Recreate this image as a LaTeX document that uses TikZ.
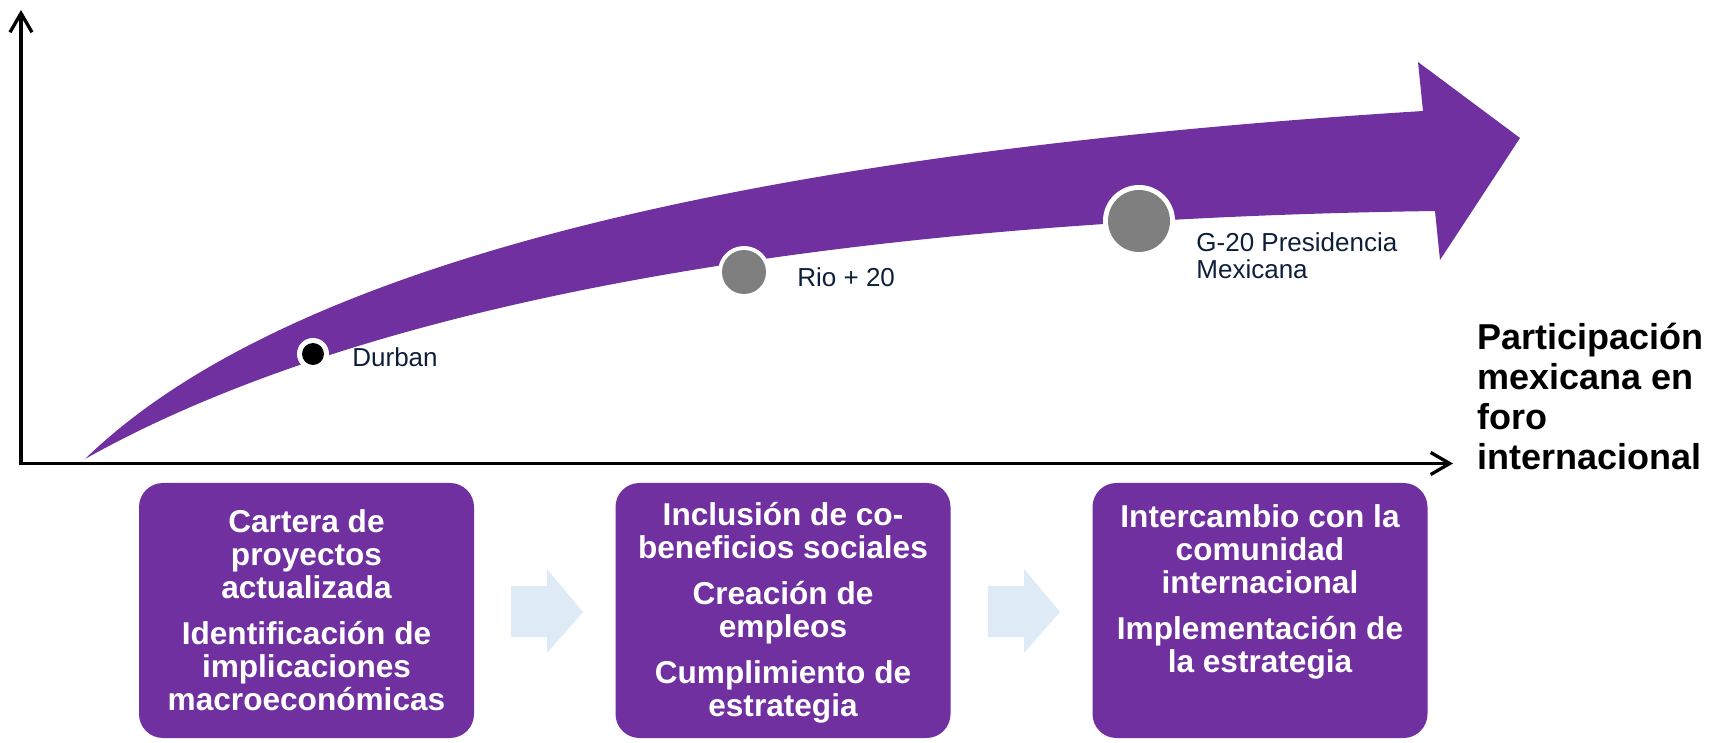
\documentclass[tikz,border=0pt]{standalone}
\usepackage{fontspec}
\setmainfont{Liberation Sans}
\usetikzlibrary{arrows.meta}
\definecolor{purp}{HTML}{7030A0}
\definecolor{navy}{HTML}{0E1F3A}
\definecolor{dotgray}{HTML}{7F7F7F}
\definecolor{paleblue}{HTML}{DEEBF7}
\tikzset{
  axisline/.style={line width=1.65pt, line join=miter, {Straight Barb[length=9.5pt,width=11pt]}-{Straight Barb[length=9.5pt,width=11pt]}},
  stagebox/.style={fill=purp, rounded corners=12pt, minimum width=167.5pt, minimum height=127.5pt, inner sep=0pt},
  stagetext/.style={anchor=north, align=center, text=white, font=\bfseries\fontsize{15.8}{16.5}\selectfont, inner sep=0pt},
  milestone/.style={anchor=base west, text=navy, font=\fontsize{13}{13.5}\selectfont, inner sep=0pt, align=left},
  ring/.style={circle, fill=white, inner sep=0pt},
  chev/.style={fill=paleblue},
}
\begin{document}
\begin{tikzpicture}[x=0.5pt,y=-0.5pt]
\useasboundingbox (0,0) rectangle (1721,743);
% axes
\coordinate (ytop) at (21,10);
\coordinate (origin) at (21,463.5);
\coordinate (xend) at (1453,463.5);
\draw[axisline] (ytop) -- (origin) -- (xend);
% big curved arrow
\fill[purp] (85,459) .. controls (300,250) and (800,150) .. (1423,111)
  -- (1418,62) -- (1520,138) -- (1440,260) -- (1435,211)
  .. controls (800,220) and (350,310) .. (85,459) -- cycle;
% milestones
\node[ring, minimum size=16pt] (durbanring) at (313,354) {};
\node[circle, fill=black, inner sep=0pt, minimum size=11pt] (durbandot) at (durbanring) {};
\node[milestone] (durban) at (352,367) {Durban};
\node[ring, minimum size=26pt] (rioring) at (744,272) {};
\node[circle, fill=dotgray, inner sep=0pt, minimum size=22pt] (riodot) at (rioring) {};
\node[milestone] (rio) at (797,287) {Rio + 20};
\node[ring, minimum size=36pt] (gring) at (1139,221) {};
\node[circle, fill=dotgray, inner sep=0pt, minimum size=31pt] (gdot) at (gring) {};
\node[milestone, anchor=north west] (g20) at (1196,232) {G-20 Presidencia\\Mexicana};
% axis label
\node[anchor=north west, align=left, inner sep=0pt, font=\bfseries\fontsize{18}{20}\selectfont] (xlabel) at (1477,323)
  {Participación\\mexicana en\\foro\\internacional};
% stage boxes
\node[stagebox] (b1) at (306.5,610.5) {};
\node[stagebox] (b2) at (783,610.5) {};
\node[stagebox] (b3) at (1260,610.5) {};
\node[stagetext] (t1) at (306.5,509) {Cartera de\\proyectos\\actualizada\\[6.5pt]Identificación de\\implicaciones\\macroeconómicas};
\node[stagetext] (t2) at (783,502) {Inclusión de co-\\beneficios sociales\\[6.5pt]Creación de\\empleos\\[6.5pt]Cumplimiento de\\estrategia};
\node[stagetext] (t3) at (1260,504) {Intercambio con la\\comunidad\\internacional\\[6.5pt]Implementación de\\la estrategia};
% chevrons
\fill[chev] (511,586) -- (547,586) -- (547,569) -- (583,612) -- (547,653) -- (547,637) -- (511,637) -- cycle;
\fill[chev] (988,586) -- (1024,586) -- (1024,569) -- (1060,612) -- (1024,653) -- (1024,637) -- (988,637) -- cycle;
\end{tikzpicture}
\end{document}
